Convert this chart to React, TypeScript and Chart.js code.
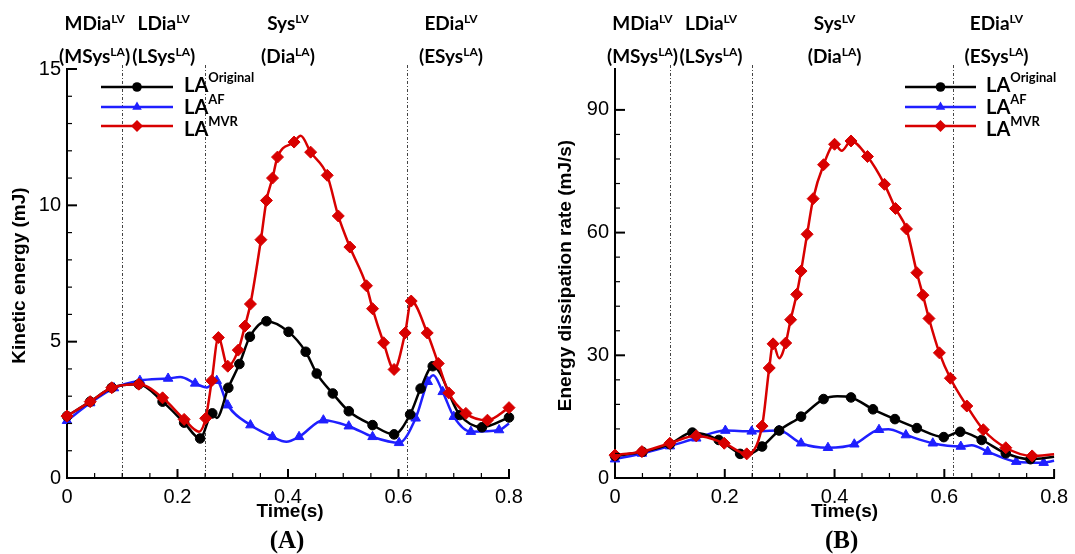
import { useEffect, useRef } from "react";
import { Chart, registerables } from "chart.js";

Chart.register(...registerables);

// Cardiac phase boundaries (s) and the time at which each phase caption is centred
const phaseBoundaries = [0.1, 0.25, 0.615];
const phaseCaptionTimes = [0.05, 0.175, 0.4, 0.695];
const phaseNamesLV = ["MDia", "LDia", "Sys", "EDia"];
const phaseNamesLA = ["(MSys", "(LSys", "(Dia", "(ESys"];

// Legend superscripts, in series order
const seriesTags = ["Original", "AF", "MVR"];

// Time axis
const timeMax = 0.8;
const timeMinorStep = 0.05;
const timeMajorStep = 0.2;

// ---- (A) kinetic energy, mJ ----
const keOriginalT = [0, 0.042, 0.081, 0.13, 0.173, 0.212, 0.241, 0.263, 0.271, 0.292, 0.312, 0.331, 0.361, 0.401, 0.432, 0.452, 0.481, 0.51, 0.553, 0.592, 0.621, 0.64, 0.662, 0.711, 0.751, 0.8];
const keOriginalV = [2.27, 2.8, 3.31, 3.44, 2.8, 2.03, 1.45, 2.37, 2.2, 3.31, 4.18, 5.18, 5.75, 5.36, 4.63, 3.83, 3.1, 2.45, 1.94, 1.6, 2.33, 3.28, 4.1, 2.31, 1.86, 2.22];
const keOriginalMark = [1, 1, 1, 1, 1, 1, 1, 1, 0, 1, 1, 1, 1, 1, 1, 1, 1, 1, 1, 1, 1, 1, 1, 1, 1, 1];

const keAfT = [0, 0.042, 0.085, 0.132, 0.183, 0.205, 0.232, 0.253, 0.271, 0.291, 0.332, 0.372, 0.397, 0.42, 0.464, 0.51, 0.553, 0.601, 0.631, 0.653, 0.663, 0.68, 0.7, 0.731, 0.782, 0.8];
const keAfV = [2.1, 2.75, 3.3, 3.57, 3.65, 3.7, 3.47, 3.32, 3.57, 2.67, 1.94, 1.51, 1.33, 1.51, 2.12, 1.9, 1.51, 1.29, 2.19, 3.53, 3.77, 3.16, 2.25, 1.7, 1.76, 2.0];
const keAfMark = [1, 1, 1, 1, 1, 0, 1, 0, 1, 1, 1, 1, 0, 1, 1, 1, 1, 1, 1, 1, 0, 1, 1, 1, 1, 0];

const keMvrT = [0, 0.042, 0.081, 0.13, 0.173, 0.212, 0.239, 0.251, 0.262, 0.274, 0.291, 0.31, 0.322, 0.332, 0.351, 0.361, 0.372, 0.381, 0.411, 0.423, 0.441, 0.471, 0.491, 0.512, 0.542, 0.553, 0.573, 0.592, 0.612, 0.623, 0.652, 0.672, 0.691, 0.722, 0.761, 0.8];
const keMvrV = [2.27, 2.8, 3.31, 3.44, 2.94, 2.15, 1.7, 2.19, 3.57, 5.15, 4.1, 4.69, 5.57, 6.38, 8.74, 10.18, 11.0, 11.77, 12.32, 12.55, 11.95, 11.1, 9.61, 8.47, 7.05, 6.21, 4.96, 3.98, 5.32, 6.49, 5.32, 4.2, 3.12, 2.37, 2.12, 2.58];
const keMvrMark = [1, 1, 1, 1, 1, 1, 0, 1, 1, 1, 1, 1, 1, 1, 1, 1, 1, 1, 1, 0, 1, 1, 1, 1, 1, 1, 1, 1, 1, 1, 1, 1, 1, 1, 1, 1];

// ---- (B) energy dissipation rate, mJ/s ----
const edrOriginalT = [0, 0.05, 0.1, 0.141, 0.189, 0.228, 0.238, 0.268, 0.299, 0.339, 0.38, 0.405, 0.43, 0.47, 0.51, 0.55, 0.599, 0.629, 0.668, 0.712, 0.757, 0.8];
const edrOriginalV = [5.4, 6.4, 8.3, 11.1, 9.3, 5.9, 5.6, 7.7, 11.6, 15.0, 19.3, 20.0, 19.7, 16.8, 14.4, 12.2, 10.0, 11.3, 9.3, 6.05, 4.6, 5.2];
const edrOriginalMark = [1, 1, 1, 1, 1, 1, 0, 1, 1, 1, 1, 0, 1, 1, 1, 1, 1, 1, 1, 1, 1, 0];

const edrAfT = [0, 0.049, 0.1, 0.148, 0.201, 0.249, 0.299, 0.339, 0.388, 0.436, 0.481, 0.498, 0.53, 0.579, 0.63, 0.65, 0.679, 0.731, 0.781, 0.8];
const edrAfV = [4.6, 6.0, 7.8, 9.7, 11.6, 11.4, 11.6, 8.5, 7.4, 8.25, 11.8, 11.9, 10.5, 8.5, 7.7, 8.0, 6.45, 4.0, 3.75, 4.2];
const edrAfMark = [1, 1, 1, 1, 1, 1, 1, 1, 1, 1, 1, 0, 1, 1, 1, 0, 1, 1, 1, 0];

const edrMvrT = [0, 0.049, 0.1, 0.148, 0.199, 0.24, 0.268, 0.281, 0.288, 0.299, 0.311, 0.32, 0.331, 0.339, 0.35, 0.361, 0.38, 0.4, 0.413, 0.43, 0.46, 0.491, 0.511, 0.531, 0.55, 0.561, 0.572, 0.591, 0.611, 0.641, 0.671, 0.712, 0.76, 0.8];
const edrMvrV = [5.6, 6.45, 8.5, 10.3, 8.5, 5.9, 12.7, 26.9, 32.8, 29.3, 33.0, 38.7, 44.9, 50.6, 59.6, 68.3, 76.6, 81.6, 80.0, 82.4, 78.6, 71.8, 65.9, 60.9, 50.2, 44.7, 39.0, 30.6, 24.4, 17.6, 11.8, 7.4, 5.4, 5.8];
const edrMvrMark = [1, 1, 1, 1, 1, 1, 1, 1, 1, 0, 1, 1, 1, 1, 1, 1, 1, 1, 0, 1, 1, 1, 1, 1, 1, 1, 1, 1, 1, 1, 1, 1, 1, 0];

const BLACK = "#000000";
const BLUE = "#1f1fff";
const RED = "#d80000";

type Series = {
  t: number[];
  v: number[];
  mark: number[];
  color: string;
  style: "circle" | "triangle" | "rectRot";
  radius: number;
  order: number;
};

type Panel = {
  series: Series[];
  yMax: number;
  yMinorStep: number;
  yMajorStep: number;
  yTitle: string;
  yTitleX: number;
  letter: string;
  titleShift: number;
  axisLeft: number;
  padRight: number;
  legendX1: number;
  legendX2: number;
  legendTextX: number;
};

const LABEL_FONT = "Liberation Sans, Arial, sans-serif";
const CAPTION_FONT = "Lato, 'Open Sans', sans-serif";

// legend rows: line heights and text baselines
const legendLineY = [87, 107, 126];
const legendTextY = [92, 114, 136];

function isMultiple(v: number, step: number) {
  const r = v / step;
  return Math.abs(r - Math.round(r)) < 1e-6;
}

function richWidth(ctx: CanvasRenderingContext2D, parts: [string, boolean][], mainFont: string, supFont: string) {
  let w = 0;
  for (const [s, sup] of parts) {
    ctx.font = sup ? supFont : mainFont;
    w += ctx.measureText(s).width;
  }
  return w;
}

function drawRich(
  ctx: CanvasRenderingContext2D,
  parts: [string, boolean][],
  x: number,
  baseline: number,
  mainFont: string,
  supFont: string,
  rise: number,
  centred: boolean
) {
  let cx = centred ? x - richWidth(ctx, parts, mainFont, supFont) / 2 : x;
  ctx.textAlign = "left";
  ctx.textBaseline = "alphabetic";
  for (const [s, sup] of parts) {
    ctx.font = sup ? supFont : mainFont;
    ctx.fillText(s, cx, sup ? baseline - rise : baseline);
    cx += ctx.measureText(s).width;
  }
}

function drawMarker(ctx: CanvasRenderingContext2D, style: string, r: number, x: number, y: number) {
  ctx.beginPath();
  if (style === "circle") {
    ctx.arc(x, y, r, 0, Math.PI * 2);
  } else if (style === "triangle") {
    const h = r * 1.5;
    const half = (r * Math.sqrt(3)) / 2;
    ctx.moveTo(x, y - r);
    ctx.lineTo(x + half, y - r + h);
    ctx.lineTo(x - half, y - r + h);
    ctx.closePath();
  } else {
    ctx.moveTo(x, y - r);
    ctx.lineTo(x + r, y);
    ctx.lineTo(x, y + r);
    ctx.lineTo(x - r, y);
    ctx.closePath();
  }
  ctx.fill();
}

function buildChart(canvas: HTMLCanvasElement, p: Panel) {
  const decor = {
    id: "panelDecor",
    beforeDatasetsDraw(chart: any) {
      const { ctx, chartArea: a, scales } = chart;
      ctx.save();
      ctx.strokeStyle = "#444";
      ctx.lineWidth = 1;
      ctx.setLineDash([3, 2, 1, 2]);
      for (const t of phaseBoundaries) {
        const px = Math.round(scales.x.getPixelForValue(t)) + 0.5;
        ctx.beginPath();
        ctx.moveTo(px, a.top - 4);
        ctx.lineTo(px, a.bottom);
        ctx.stroke();
      }
      ctx.restore();
    },
    afterDraw(chart: any) {
      const { ctx, chartArea: a, scales } = chart;
      const xs = scales.x;
      const ys = scales.y;
      ctx.save();
      ctx.strokeStyle = "#000";
      ctx.fillStyle = "#000";

      // inward tick marks
      for (const tk of xs.ticks) {
        if (!isMultiple(tk.value, timeMinorStep)) continue;
        const major = isMultiple(tk.value, timeMajorStep);
        const px = xs.getPixelForValue(tk.value);
        ctx.lineWidth = major ? 2 : 1.2;
        ctx.beginPath();
        ctx.moveTo(px, a.bottom);
        ctx.lineTo(px, a.bottom - (major ? 9 : 5));
        ctx.stroke();
      }
      for (const tk of ys.ticks) {
        if (!isMultiple(tk.value, p.yMinorStep)) continue;
        const major = isMultiple(tk.value, p.yMajorStep);
        const py = ys.getPixelForValue(tk.value);
        ctx.lineWidth = major ? 2 : 1.2;
        ctx.beginPath();
        ctx.moveTo(a.left, py);
        ctx.lineTo(a.left + (major ? 10 : 5), py);
        ctx.stroke();
      }

      // phase captions above the plot
      const capMain = `bold 19px ${CAPTION_FONT}`;
      const capSup = `bold 12px ${CAPTION_FONT}`;
      phaseCaptionTimes.forEach((t, i) => {
        const cx = xs.getPixelForValue(t);
        drawRich(ctx, [[phaseNamesLV[i], false], ["LV", true]], cx, 30, capMain, capSup, 7, true);
        drawRich(ctx, [[phaseNamesLA[i], false], ["LA", true], [")", false]], cx, 63, capMain, capSup, 7, true);
      });

      // axis titles
      const midX = xs.getPixelForValue(0.4) + p.titleShift;
      ctx.font = `bold 19px ${LABEL_FONT}`;
      ctx.textAlign = "center";
      ctx.textBaseline = "alphabetic";
      ctx.fillText("Time(s)", midX + 2, 517);
      ctx.save();
      ctx.translate(p.yTitleX, (a.top + a.bottom) / 2 + 2);
      ctx.rotate(-Math.PI / 2);
      ctx.textBaseline = "middle";
      ctx.fillText(p.yTitle, 0, 0);
      ctx.restore();

      // panel letter
      ctx.font = `bold 25px 'Liberation Serif', 'Times New Roman', serif`;
      ctx.textAlign = "center";
      ctx.fillText(p.letter, midX - 1, 548);

      // legend
      p.series.forEach((s, i) => {
        const y = legendLineY[i];
        ctx.strokeStyle = s.color;
        ctx.fillStyle = s.color;
        ctx.lineWidth = 2.5;
        ctx.beginPath();
        ctx.moveTo(p.legendX1, y);
        ctx.lineTo(p.legendX2, y);
        ctx.stroke();
        drawMarker(ctx, s.style, s.radius, (p.legendX1 + p.legendX2) / 2, y);
        ctx.fillStyle = "#000";
        drawRich(
          ctx,
          [["LA", false], [seriesTags[i], true]],
          p.legendTextX,
          legendTextY[i],
          `bold 20px ${CAPTION_FONT}`,
          `bold 13px ${CAPTION_FONT}`,
          10,
          false
        );
      });
      ctx.restore();
    },
  };

  return new Chart(canvas, {
    type: "line",
    data: {
      datasets: p.series.map((s) => ({
        data: s.t.map((x, i) => ({ x, y: s.v[i] })),
        borderColor: s.color,
        backgroundColor: s.color,
        borderWidth: 2.5,
        pointStyle: s.style,
        pointRadius: (c: any) => (s.mark[c.dataIndex] ? s.radius : 0),
        pointBackgroundColor: s.color,
        pointBorderColor: s.color,
        pointBorderWidth: 1,
        cubicInterpolationMode: "monotone" as const,
        clip: false as any,
        order: s.order,
      })),
    },
    options: {
      animation: false,
      responsive: false,
      events: [],
      layout: { padding: { left: 0, top: 69, right: p.padRight, bottom: 0 } },
      plugins: { legend: { display: false }, tooltip: { enabled: false } },
      scales: {
        x: {
          type: "linear",
          min: 0,
          max: timeMax,
          afterFit: (s: any) => {
            s.height = 76;
          },
          grid: { display: false, drawTicks: false },
          border: { display: true, color: "#000", width: 2 },
          ticks: {
            stepSize: timeMinorStep,
            autoSkip: false,
            maxRotation: 0,
            padding: 7,
            color: "#000",
            font: { family: LABEL_FONT, size: 20 },
            callback: (v: any) => {
              const n = Number(v);
              return isMultiple(n, timeMajorStep) ? String(Math.round(n * 10) / 10) : "";
            },
          },
        },
        y: {
          type: "linear",
          min: 0,
          max: p.yMax,
          afterFit: (s: any) => {
            s.width = p.axisLeft;
          },
          grid: { display: false, drawTicks: false },
          border: { display: true, color: "#000", width: 2 },
          ticks: {
            stepSize: p.yMinorStep,
            autoSkip: false,
            padding: 6,
            color: "#000",
            font: { family: LABEL_FONT, size: 20 },
            callback: (v: any) => {
              const n = Number(v);
              return isMultiple(n, p.yMajorStep) ? String(n) : "";
            },
          },
        },
      },
    },
    plugins: [decor],
  } as any);
}

const panelA: Panel = {
  series: [
    { t: keOriginalT, v: keOriginalV, mark: keOriginalMark, color: BLACK, style: "circle", radius: 4.8, order: 1 },
    { t: keAfT, v: keAfV, mark: keAfMark, color: BLUE, style: "triangle", radius: 5.5, order: 2 },
    { t: keMvrT, v: keMvrV, mark: keMvrMark, color: RED, style: "rectRot", radius: 6, order: 0 },
  ],
  yMax: 15,
  yMinorStep: 1,
  yMajorStep: 5,
  yTitle: "Kinetic energy (mJ)",
  yTitleX: 20,
  letter: "(A)",
  titleShift: 0,
  axisLeft: 67,
  padRight: 31,
  legendX1: 101,
  legendX2: 173,
  legendTextX: 184,
};

const panelB: Panel = {
  series: [
    { t: edrOriginalT, v: edrOriginalV, mark: edrOriginalMark, color: BLACK, style: "circle", radius: 4.8, order: 1 },
    { t: edrAfT, v: edrAfV, mark: edrAfMark, color: BLUE, style: "triangle", radius: 5.5, order: 2 },
    { t: edrMvrT, v: edrMvrV, mark: edrMvrMark, color: RED, style: "rectRot", radius: 6, order: 0 },
  ],
  yMax: 100,
  yMinorStep: 6,
  yMajorStep: 30,
  yTitle: "Energy dissipation rate (mJ/s)",
  yTitleX: 26,
  letter: "(B)",
  titleShift: 8,
  axisLeft: 75,
  padRight: 18,
  legendX1: 365,
  legendX2: 436,
  legendTextX: 446,
};

function PanelChart({ panel, left, width }: { panel: Panel; left: number; width: number }) {
  const ref = useRef<HTMLCanvasElement | null>(null);
  useEffect(() => {
    if (!ref.current) return;
    const chart = buildChart(ref.current, panel);
    return () => chart.destroy();
  }, [panel]);
  return (
    <canvas
      ref={ref}
      width={width}
      height={554}
      style={{ position: "absolute", left, top: 0, width, height: 554 }}
    />
  );
}

export default function App() {
  return (
    <div
      style={{
        position: "fixed",
        left: 0,
        top: 0,
        width: 1075,
        height: 554,
        background: "#fff",
        overflow: "hidden",
      }}
    >
      <PanelChart panel={panelA} left={0} width={540} />
      <PanelChart panel={panelB} left={540} width={535} />
    </div>
  );
}
